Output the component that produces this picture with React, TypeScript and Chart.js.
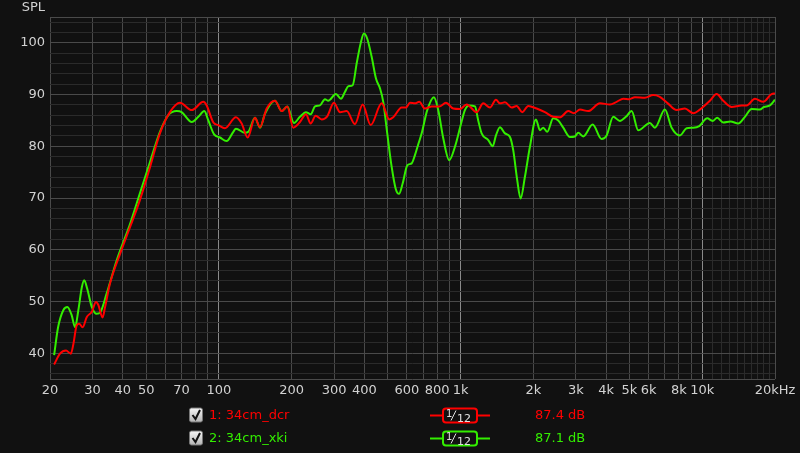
import React, { useEffect, useRef } from 'react';
import { Chart, registerables } from 'chart.js';

Chart.register(...registerables);

// ---- data ----
const redFreq = [
  20.8, 22.0, 23.3, 24.4, 25.0, 25.8, 26.4, 27.3, 28.4, 29.8, 31.0, 31.7, 33.0, 33.8, 35.4,
  39.0, 42.9, 47.1, 51.9, 57.0, 62.7, 69.0, 77.2, 86.2, 89.0, 94.8, 99.4, 105.9, 117.6, 124.2,
  131.5, 141.0, 147.9, 157.6, 170.6, 181.8, 191.8, 203.1, 216.4, 229.2, 239.7, 251.4, 266.2,
  280.7, 299.0, 317.0, 337.8, 365.5, 393.3, 424.6, 471.6, 506.7, 526.4, 570.4, 594.3, 617.3,
  647.4, 674.5, 712.1, 759.0, 816.0, 869.8, 932.4, 993.9, 1059, 1165, 1241, 1323, 1401, 1455,
  1526, 1627, 1706, 1800, 1905, 2064, 2234, 2417, 2576, 2789, 2944, 3118, 3374, 3773, 4150,
  4422, 4709, 4987, 5266, 5790, 6267, 6650, 7200, 7833, 8477, 9172, 9780, 10758, 11466, 12210,
  13226, 14550, 15260, 16512, 17878, 19360, 20000,
];
const redDb = [
  37.8, 39.9, 40.5, 39.9, 41.8, 45.4, 45.7, 45.0, 47.0, 48.0, 49.9, 49.3, 46.9, 48.9, 53.4,
  59.2, 64.4, 69.6, 76.0, 82.5, 86.6, 88.4, 87.0, 88.6, 87.9, 84.6, 84.1, 83.5, 85.6, 84.4,
  81.7, 85.5, 83.7, 87.3, 88.8, 86.8, 87.7, 83.6, 84.7, 86.2, 84.4, 85.9, 85.2,
  85.8, 88.4, 86.6, 86.8, 84.3, 88.1, 84.1, 88.3, 85.2, 85.6, 87.5, 87.5, 88.4,
  88.3, 88.6, 87.3, 87.7, 87.7, 88.4, 87.3, 87.2, 88.1, 86.6, 88.3, 87.5, 89.0, 88.3,
  88.5, 87.5, 87.8, 86.6, 87.8, 87.3, 86.6, 85.7, 85.6, 86.8, 86.4, 87.1, 86.8, 88.3, 88.1,
  88.6, 89.2, 89.1, 89.5, 89.4, 89.9, 89.6, 88.3, 87.0, 87.3, 86.4, 87.1, 88.8, 90.1, 88.8,
  87.6, 87.9, 87.9, 89.2, 88.6, 90.1, 90.2,
];
const greenFreq = [
  20.8, 21.6, 22.7, 23.6, 24.6, 25.4, 26.2, 27.1, 27.7, 28.5, 29.8, 31.2, 32.4, 34.3, 37.8,
  42.9, 47.1, 51.9, 57.0, 61.7, 66.9, 70.1, 77.2, 82.2, 87.0, 90.4, 95.5, 101.0, 107.6, 114.7,
  117.6, 128.2, 132.3, 141.0, 147.9, 155.1, 170.6, 181.8, 191.8, 204.4, 216.4, 229.2, 239.7,
  249.8, 261.9, 274.7, 283.4, 305.0, 319.9, 332.2, 343.0, 357.7, 371.5, 385.9, 398.2, 411.0,
  428.6, 446.6, 464.0, 478.6, 497.2, 518.6, 538.8, 556.0, 575.8, 601.8, 627.6, 647.4, 668.2,
  690.2, 727.8, 776.0, 808.2, 848.2, 897.4, 947.6, 1000, 1042, 1086, 1147, 1183, 1222, 1302,
  1358, 1401, 1455, 1526, 1601, 1652, 1716, 1772, 1846, 1936, 2050, 2130, 2198, 2284, 2417,
  2536, 2660, 2835, 2972, 3068, 3218, 3520, 3834, 4022, 4282, 4564, 4832, 5102, 5433, 6072,
  6370, 7006, 7470, 8086, 8618, 9172, 9716, 10484, 11038, 11530, 12210, 13102, 14088, 15016,
  16008, 17322, 17994, 19052, 20000,
];
const greenDb = [
  39.6, 45.0, 48.3, 48.9, 47.3, 45.0, 48.3, 52.8, 54.1, 52.5, 48.9, 47.6, 48.0, 51.5, 58.0,
  65.0, 70.9, 77.0, 82.8, 86.0, 86.8, 86.6, 84.7, 85.7, 86.8, 85.0, 82.3, 81.7, 81.0, 82.8,
  83.4, 82.6, 82.8, 85.5, 83.6, 86.3, 88.8, 86.8, 87.7, 84.5, 85.7, 86.6, 86.2,
  87.7, 87.9, 89.1, 88.8, 90.1, 89.2, 90.5, 91.6, 91.8, 96.0, 99.9, 101.8, 100.8,
  97.3, 93.1, 91.2, 88.6, 82.5, 76.0, 71.8, 70.8, 72.8, 76.3, 76.7, 78.3, 80.4,
  82.5, 87.0, 89.5, 87.0, 81.5, 77.3, 79.9, 84.0, 87.0, 87.9, 87.7, 85.0, 82.5, 81.2,
  80.0, 82.1, 83.7, 82.5, 81.8, 79.2, 73.4, 69.9, 74.1, 79.9, 85.2, 83.1, 83.6, 82.8, 85.4,
  85.0, 83.6, 81.8, 81.9, 82.6, 81.9, 84.2, 81.4, 82.1, 85.7, 84.9, 85.7, 86.8, 83.1, 84.5,
  83.6, 87.1, 83.6, 82.1, 83.5, 83.6, 83.9, 85.4, 84.9, 85.5, 84.6, 84.8, 84.4, 85.7,
  87.2, 87.1, 87.6, 87.9, 89.0,
];

const xGridValues = [
  20, 30, 40, 50, 60, 70, 80, 90, 100, 200, 300, 400, 500, 600, 700, 800, 900, 1000, 2000,
  3000, 4000, 5000, 6000, 7000, 8000, 9000, 10000, 11000, 12000, 13000, 14000, 15000, 16000,
  17000, 18000, 19000, 20000,
];
const xTickLabels: Record<number, string> = {
  20: '20', 30: '30', 40: '40', 50: '50', 70: '70', 100: '100', 200: '200', 300: '300',
  400: '400', 600: '600', 800: '800', 1000: '1k', 2000: '2k', 3000: '3k', 4000: '4k',
  5000: '5k', 6000: '6k', 8000: '8k', 10000: '10k', 20000: '20kHz',
};
const yGridValues = [
  35, 36, 38, 40, 42, 44, 46, 48, 50, 52, 54, 56, 58, 60, 62, 64, 66, 68, 70, 72, 74, 76, 78,
  80, 82, 84, 86, 88, 90, 92, 94, 96, 98, 100, 102, 104, 105,
];
const yTickLabels = [40, 50, 60, 70, 80, 90, 100];
const yAxisTitle = 'SPL';
const seriesNames = ['1: 34cm_dcr', '2: 34cm_xki'];
const seriesLevels = ['87.4 dB', '87.1 dB'];
const seriesColors = ['#ff0000', '#33ee00'];

const BG = '#111111';
const FONT = '"DejaVu Sans", sans-serif';
const TEXT = '#d2d2d2';

function roundRect(ctx: CanvasRenderingContext2D, x: number, y: number, w: number, h: number, r: number) {
  ctx.beginPath();
  ctx.moveTo(x + r, y);
  ctx.lineTo(x + w - r, y);
  ctx.arcTo(x + w, y, x + w, y + r, r);
  ctx.lineTo(x + w, y + h - r);
  ctx.arcTo(x + w, y + h, x + w - r, y + h, r);
  ctx.lineTo(x + r, y + h);
  ctx.arcTo(x, y + h, x, y + h - r, r);
  ctx.lineTo(x, y + r);
  ctx.arcTo(x, y, x + r, y, r);
  ctx.closePath();
}

const decorPlugin = {
  id: 'decor',
  beforeDraw(chart: any) {
    const ctx = chart.ctx as CanvasRenderingContext2D;
    ctx.save();
    ctx.fillStyle = BG;
    ctx.fillRect(0, 0, chart.width, chart.height);
    ctx.restore();
  },
  afterDraw(chart: any) {
    const ctx = chart.ctx as CanvasRenderingContext2D;
    const area = chart.chartArea;
    ctx.save();
    // axis title
    ctx.font = `13px ${FONT}`;
    ctx.fillStyle = TEXT;
    ctx.textAlign = 'right';
    ctx.textBaseline = 'middle';
    ctx.fillText(yAxisTitle, area.left - 5, 8);

    // legend rows
    const rowY = [415.5, 438.5];
    for (let i = 0; i < seriesNames.length; i++) {
      const cy = rowY[i];
      const col = seriesColors[i];
      // checkbox
      const bx = 189.5, by = cy - 7.5;
      const g = ctx.createLinearGradient(0, by, 0, by + 14);
      g.addColorStop(0, '#f6f6f6');
      g.addColorStop(1, '#b4b4b4');
      roundRect(ctx, bx, by, 13, 14, 2);
      ctx.fillStyle = g;
      ctx.fill();
      ctx.strokeStyle = '#777';
      ctx.lineWidth = 1;
      ctx.stroke();
      ctx.beginPath();
      ctx.moveTo(bx + 3, by + 7);
      ctx.lineTo(bx + 6, by + 11);
      ctx.lineTo(bx + 10.5, by + 2);
      ctx.strokeStyle = '#111';
      ctx.lineWidth = 2;
      ctx.stroke();
      // name
      ctx.fillStyle = col;
      ctx.textAlign = 'left';
      ctx.textBaseline = 'middle';
      ctx.font = `13px ${FONT}`;
      ctx.fillText(seriesNames[i], 209, cy);
      // line sample
      ctx.strokeStyle = col;
      ctx.lineWidth = 2;
      ctx.beginPath();
      ctx.moveTo(430, cy);
      ctx.lineTo(490, cy);
      ctx.stroke();
      roundRect(ctx, 443, cy - 7, 34, 14, 3);
      ctx.fillStyle = BG;
      ctx.fill();
      ctx.stroke();
      // 1/12
      ctx.fillStyle = '#e0e0e0';
      ctx.font = `10px ${FONT}`;
      ctx.textBaseline = 'alphabetic';
      ctx.fillText('1', 446, cy + 1);
      ctx.strokeStyle = '#e0e0e0';
      ctx.lineWidth = 1;
      ctx.beginPath();
      ctx.moveTo(451, cy + 5);
      ctx.lineTo(456, cy - 5);
      ctx.stroke();
      ctx.font = `11px ${FONT}`;
      ctx.fillText('12', 457, cy + 6);
      // level
      ctx.fillStyle = col;
      ctx.font = `13px ${FONT}`;
      ctx.textBaseline = 'middle';
      ctx.fillText(seriesLevels[i], 535, cy);
    }
    ctx.restore();
  },
};

export default function App() {
  const ref = useRef<HTMLCanvasElement | null>(null);
  useEffect(() => {
    if (!ref.current) return;
    const mk = (fs: number[], ds: number[]) => fs.map((f, i) => ({ x: f, y: ds[i] }));
    const chart = new Chart(ref.current, {
      type: 'line',
      data: {
        datasets: [
          {
            label: seriesNames[0],
            data: mk(redFreq, redDb),
            borderColor: seriesColors[0],
            borderWidth: 2,
            pointRadius: 0,
            cubicInterpolationMode: 'monotone',
            fill: false,
          },
          {
            label: seriesNames[1],
            data: mk(greenFreq, greenDb),
            borderColor: seriesColors[1],
            borderWidth: 2,
            pointRadius: 0,
            cubicInterpolationMode: 'monotone',
            fill: false,
          },
        ],
      },
      options: {
        animation: false,
        responsive: false,
        devicePixelRatio: 1,
        layout: { padding: { top: 17, right: 25, left: 0, bottom: 0 } },
        plugins: { legend: { display: false }, tooltip: { enabled: false } },
        scales: {
          x: {
            type: 'logarithmic',
            min: 20,
            max: 20000,
            afterBuildTicks: (scale: any) => {
              scale.ticks = xGridValues.map((v) => ({ value: v }));
            },
            afterFit: (scale: any) => {
              scale.height = 74;
            },
            ticks: {
              autoSkip: false,
              maxRotation: 0,
              minRotation: 0,
              padding: 4,
              color: TEXT,
              font: { family: FONT, size: 13 },
              callback: (v: any) => xTickLabels[Number(v)] ?? '',
            },
            grid: {
              drawTicks: false,
              lineWidth: 1,
              color: (c: any) => {
                const v = c.tick ? c.tick.value : 0;
                if (v === 100 || v === 1000 || v === 10000) return '#8a8a8a';
                if (v > 10000 && v < 20000) return '#2b2b2b';
                return '#4a4a4a';
              },
            },
            border: { display: false },
          },
          y: {
            type: 'linear',
            min: 35,
            max: 105,
            afterBuildTicks: (scale: any) => {
              scale.ticks = yGridValues.map((v) => ({ value: v }));
            },
            afterFit: (scale: any) => {
              scale.width = 50;
            },
            ticks: {
              autoSkip: false,
              padding: 5,
              color: TEXT,
              font: { family: FONT, size: 13 },
              callback: (v: any) => (yTickLabels.includes(Number(v)) ? String(v) : ''),
            },
            grid: {
              drawTicks: false,
              lineWidth: 1,
              color: (c: any) => {
                const v = c.tick ? c.tick.value : 0;
                if (v === 35 || v === 105) return '#4a4a4a';
                if (v % 10 === 0) return '#4a4a4a';
                return '#2b2b2b';
              },
            },
            border: { display: false },
          },
        },
      },
      plugins: [decorPlugin],
    } as any);
    return () => chart.destroy();
  }, []);
  return (
    <div style={{ position: 'absolute', left: 0, top: 0, width: 800, height: 453, background: BG }}>
      <canvas ref={ref} width={800} height={453} style={{ display: 'block' }} />
    </div>
  );
}
